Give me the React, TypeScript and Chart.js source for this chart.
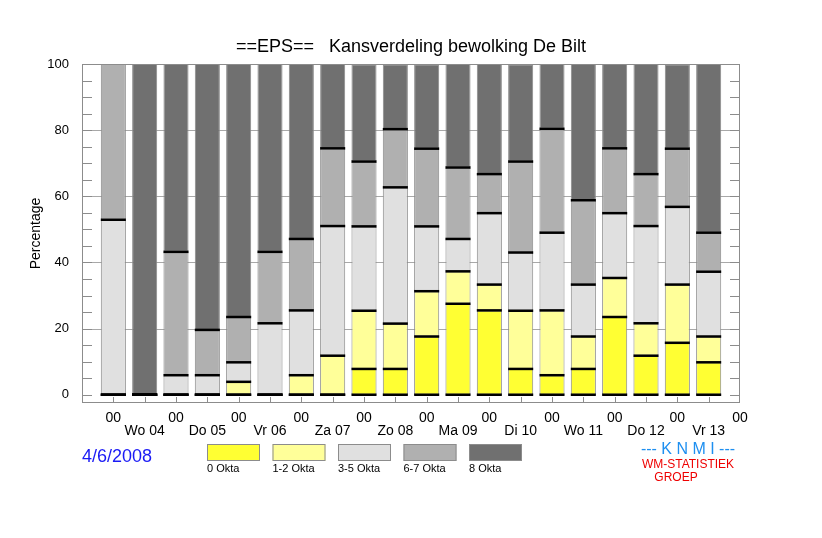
import React, { useEffect, useRef } from "react";
import { Chart, registerables } from "chart.js";

Chart.register(...registerables);

// bar slots, 12h apart; even slots are 00 UTC, odd slots carry the day label
const slotIndex = [0, 1, 2, 3, 4, 5, 6, 7, 8, 9, 10, 11, 12, 13, 14, 15, 16, 17, 18, 19];
const dayLabels = ["Wo 04", "Do 05", "Vr 06", "Za 07", "Zo 08", "Ma 09", "Di 10", "Wo 11", "Do 12", "Vr 13"];
const yTicks = [0, 20, 40, 60, 80, 100];

// percentage of ensemble members per cloud class
const okta0 = [0, 0, 0, 0, 0, 0, 0, 0, 7.8, 7.8, 17.6, 27.5, 25.5, 7.8, 5.9, 7.8, 23.5, 11.8, 15.7, 9.8];
const okta12 = [0, 0, 0, 0, 3.9, 0, 5.9, 11.8, 17.6, 13.7, 13.7, 9.8, 7.8, 17.6, 19.6, 9.8, 11.8, 9.8, 17.6, 7.8];
const okta35 = [52.9, 0, 5.9, 5.9, 5.9, 21.6, 19.6, 39.2, 25.5, 41.2, 19.6, 9.8, 21.6, 17.6, 23.5, 15.7, 19.6, 29.4, 23.5, 19.6];
const okta67 = [47.1, 0, 37.3, 13.7, 13.7, 21.6, 21.6, 23.5, 19.6, 17.6, 23.5, 21.6, 11.8, 27.5, 31.4, 25.5, 19.6, 15.7, 17.6, 11.8];
const okta8 = [0, 100, 56.9, 80.4, 76.5, 56.9, 52.9, 25.5, 29.4, 19.6, 25.5, 31.4, 33.3, 29.4, 19.6, 41.2, 25.5, 33.3, 25.5, 51.0];

const seriesLabels = ["0 Okta", "1-2 Okta", "3-5 Okta", "6-7 Okta", "8 Okta"];
const seriesValues = [okta0, okta12, okta35, okta67, okta8];
const seriesColors = ["#ffff33", "#ffff99", "#e0e0e0", "#b0b0b0", "#707070"];

const TITLE = "==EPS==   Kansverdeling bewolking De Bilt";
const DATE = "4/6/2008";
const FONT = "'Liberation Sans', Arial, Helvetica, sans-serif";

const decorPlugin = {
  id: "decor",
  beforeDatasetsDraw(chart) {
    const { ctx, chartArea: a, scales } = chart;
    const y = scales.y;
    ctx.save();
    ctx.strokeStyle = "#a8a8a8";
    ctx.lineWidth = 1;
    [20, 40, 60, 80].forEach((v) => {
      const py = Math.round(y.getPixelForValue(v)) + 0.5;
      ctx.beginPath();
      ctx.moveTo(a.left, py);
      ctx.lineTo(a.right, py);
      ctx.stroke();
    });
    ctx.restore();
  },
  afterDatasetsDraw(chart) {
    const { ctx, chartArea: a, scales } = chart;
    const x = scales.x;
    const y = scales.y;
    ctx.save();
    // black lines on class boundaries
    const meta = chart.getDatasetMeta(0);
    ctx.strokeStyle = "#000";
    ctx.lineWidth = 2.5;
    slotIndex.forEach((i) => {
      const el = meta.data[i];
      if (!el) return;
      const { x: bx, width } = el.getProps(["x", "width"], true);
      const levels = [0];
      let cum = 0;
      for (let s = 0; s < 4; s++) {
        cum += seriesValues[s][i];
        if (cum < 99.9) levels.push(cum);
      }
      levels.forEach((v) => {
        const py = y.getPixelForValue(v);
        ctx.beginPath();
        ctx.moveTo(bx - width / 2, py);
        ctx.lineTo(bx + width / 2, py);
        ctx.stroke();
      });
    });
    // frame and inward ticks
    ctx.strokeStyle = "#8c8c8c";
    ctx.lineWidth = 1;
    ctx.strokeRect(a.left + 0.5, a.top + 0.5, a.right - a.left - 1, a.bottom - a.top - 1);
    for (let v = 0; v <= 100; v += 5) {
      const py = Math.round(y.getPixelForValue(v)) + 0.5;
      ctx.beginPath();
      ctx.moveTo(a.left, py);
      ctx.lineTo(a.left + 10, py);
      ctx.moveTo(a.right, py);
      ctx.lineTo(a.right - 10, py);
      ctx.stroke();
    }
    slotIndex.forEach((i) => {
      const px = Math.round(x.getPixelForValue(i)) + 0.5;
      ctx.beginPath();
      ctx.moveTo(px, a.bottom);
      ctx.lineTo(px, a.bottom - 6);
      ctx.stroke();
    });
    ctx.restore();
  },
  afterDraw(chart) {
    const { ctx } = chart;
    ctx.save();
    ctx.textBaseline = "alphabetic";
    ctx.fillStyle = "#000";
    ctx.font = `18px ${FONT}`;
    ctx.textAlign = "center";
    ctx.fillText(TITLE, 411, 52);

    ctx.textAlign = "left";
    ctx.fillStyle = "#1a1af5";
    ctx.font = `18px ${FONT}`;
    ctx.fillText(DATE, 82, 462);

    // legend
    chart.data.datasets.forEach((ds, k) => {
      const bx = 207 + k * 65.5;
      ctx.fillStyle = ds.backgroundColor;
      ctx.fillRect(bx, 444, 53, 17);
      ctx.strokeStyle = "#8c8c8c";
      ctx.lineWidth = 1;
      ctx.strokeRect(bx + 0.5, 444.5, 52, 16);
      ctx.fillStyle = "#000";
      ctx.font = `11px ${FONT}`;
      ctx.fillText(ds.label, bx, 472);
    });

    ctx.textAlign = "center";
    ctx.fillStyle = "#1e8ff0";
    ctx.font = `16px ${FONT}`;
    ctx.fillText("--- K N M I ---", 688, 454);
    ctx.fillStyle = "#ee0000";
    ctx.font = `12px ${FONT}`;
    ctx.fillText("WM-STATISTIEK", 688, 468);
    ctx.fillText("GROEP", 676, 481);
    ctx.restore();
  },
};

export default function App() {
  const canvasRef = useRef<HTMLCanvasElement>(null);

  useEffect(() => {
    const ctx = canvasRef.current.getContext("2d");
    const chart = new Chart(ctx, {
      type: "bar",
      data: {
        datasets: seriesLabels.map((label, k) => ({
          label,
          data: slotIndex.map((i) => ({ x: i, y: seriesValues[k][i] })),
          backgroundColor: seriesColors[k],
          borderColor: "#8a8a8a",
          borderWidth: 1,
          borderSkipped: false,
          categoryPercentage: 1,
          barPercentage: 0.8,
        })),
      },
      options: {
        responsive: false,
        animation: false,
        devicePixelRatio: 1,
        layout: { padding: { left: 0, right: 82, top: 64, bottom: 0 } },
        plugins: {
          legend: { display: false },
          tooltip: { enabled: false },
          title: { display: false },
        },
        scales: {
          x: {
            type: "linear",
            stacked: true,
            offset: false,
            min: -1,
            max: 20,
            grid: { display: false, offset: false },
            border: { display: false },
            afterBuildTicks: (s) => {
              s.ticks = [-1, ...slotIndex, 20].map((v) => ({ value: v }));
            },
            afterFit: (s) => {
              s.height = 135;
            },
            ticks: {
              autoSkip: false,
              maxRotation: 0,
              padding: 1,
              color: "#000",
              font: { size: 14, family: FONT, lineHeight: 0.93 },
              callback: (v) => {
                const i = Number(v);
                if (i < 0) return "";
                if (i % 2 === 0) return ["00", ""];
                return ["", dayLabels[(i - 1) / 2]];
              },
            },
          },
          y: {
            stacked: true,
            min: -2.5,
            max: 100,
            grid: { display: false },
            border: { display: false },
            afterBuildTicks: (s) => {
              s.ticks = yTicks.map((v) => ({ value: v }));
            },
            afterFit: (s) => {
              s.width = 82;
            },
            ticks: {
              padding: 5,
              color: "#000",
              font: { size: 13, family: FONT },
            },
            title: {
              display: true,
              text: "Percentage",
              color: "#000",
              font: { size: 14, family: FONT },
              padding: { top: 28, bottom: 0 },
            },
          },
        },
      },
      plugins: [decorPlugin],
    });
    return () => {
      chart.destroy();
    };
  }, []);

  return (
    <div style={{ position: "fixed", left: 0, top: 0, background: "#fff" }}>
      <canvas ref={canvasRef} width={822} height={538} />
    </div>
  );
}
